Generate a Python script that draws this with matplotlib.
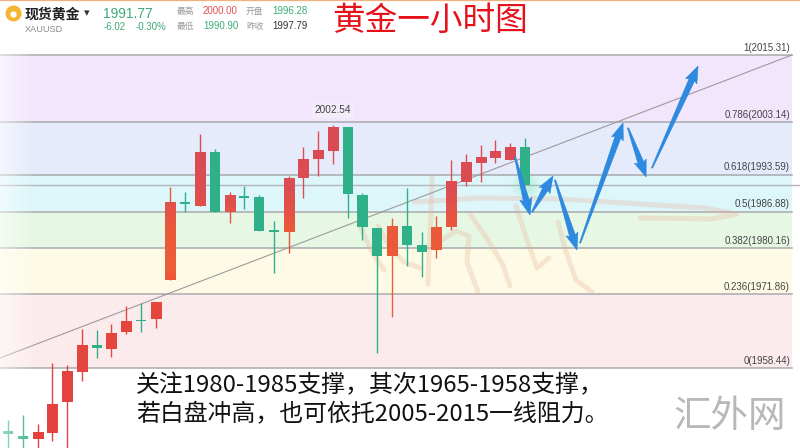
import numpy as np
import matplotlib
matplotlib.use("Agg")
import matplotlib.pyplot as plt
from matplotlib.patches import Polygon
from matplotlib.colors import LinearSegmentedColormap, Normalize
from matplotlib.lines import Line2D

plt.rcParams['font.family'] = ['Noto Sans CJK SC', 'DejaVu Sans']

# ---- hourly XAUUSD candles ----
opens = [1947.00, 1946.00, 1945.54, 1946.63, 1952.26, 1957.72, 1962.62, 1961.89, 1964.98, 1967.10,
         1967.34, 1974.43, 1988.50, 1987.88, 1997.69, 1986.79, 1989.55, 1989.51, 1983.40, 1983.15,
         1992.96, 1996.41, 1997.87, 2002.23, 1989.87, 1983.88, 1978.79, 1984.24, 1980.79, 1979.88,
         1984.06, 1992.24, 1995.69, 1996.60, 1996.23, 1998.59]
highs = [1948.99, 1949.90, 1948.27, 1959.35, 1958.99, 1965.53, 1965.35, 1966.44, 1969.71, 1970.25,
         1970.30, 1991.33, 1990.42, 2000.96, 1998.23, 1990.42, 1991.51, 1989.87, 1985.15, 1993.33,
         1998.59, 2001.50, 2002.54, 2002.30, 1990.24, 1983.88, 1985.70, 1991.15, 1983.15, 1986.06,
         1996.23, 1997.32, 1998.96, 1999.87, 1999.32, 2000.23]
lows = [1942.60, 1942.50, 1942.80, 1945.18, 1942.50, 1956.08, 1960.26, 1960.44, 1964.62, 1964.98,
        1965.71, 1974.43, 1986.79, 1987.88, 1986.79, 1984.79, 1987.33, 1983.33, 1975.70, 1979.34,
        1989.33, 1993.33, 1995.51, 1985.70, 1981.70, 1961.17, 1967.71, 1976.97, 1974.98, 1978.43,
        1983.52, 1991.51, 1992.24, 1995.69, 1996.23, 1991.69]
closes = [1946.45, 1945.60, 1946.81, 1951.72, 1957.72, 1962.62, 1962.08, 1964.62, 1966.80, 1967.00,
          1970.25, 1988.42, 1988.40, 1997.69, 1986.79, 1989.87, 1989.45, 1983.33, 1983.30, 1992.78,
          1996.41, 1997.87, 2002.23, 1990.06, 1984.06, 1978.79, 1984.06, 1980.79, 1979.52, 1983.88,
          1992.24, 1995.87, 1996.60, 1997.87, 1998.59, 1991.77]

# ---- Fibonacci retracement ----
fib_low = 1958.44
fib_high = 2015.31
fib_ratios = [1, 0.786, 0.618, 0.5, 0.382, 0.236, 0]
band_colors = ['#f1e6fb', '#e6ebfb', '#dcf6fa', '#e6f7e4', '#fdfbe5', '#fcebec']
last_price = 1991.77

# ---- trend line ----
trend_x = [-0.54, 53.08]
trend_y = [1960.26, 2015.31]

# ---- projected path (arrows) ----
arrow_from_x = [34.33, 35.48, 37.03, 38.73, 41.98, 43.60]
arrow_from_y = [1996.78, 1986.79, 1992.60, 1981.15, 2002.05, 1994.78]
arrow_to_x = [35.34, 36.90, 38.52, 41.64, 43.20, 46.72]
arrow_to_y = [1986.24, 1993.33, 1979.88, 2002.96, 1993.15, 2013.31]

# ---- quote header ----
quote_name = '现货黄金'
quote_code = 'XAUUSD'
quote_last = '1991.77'
quote_chg = '-6.02'
quote_pct = '-0.30%'
quote_high = '2000.00'
quote_low = '1990.90'
quote_open = '1996.28'
quote_prev = '1997.79'

title = '黄金一小时图'
note_lines = ['关注1980-1985支撑，其次1965-1958支撑，',
              '若白盘冲高，也可依托2005-2015一线阻力。']
brand = '汇外网'

W, H = 800, 448
fig = plt.figure(figsize=(W / 100, H / 100), dpi=100)
fig.patch.set_facecolor('white')
ax = fig.add_axes([0, 0, 1, 1])
ax.set_axis_off()
X_MIN, X_MAX = -0.542, 53.62
Y_MIN, Y_MAX = 1943.91, 2025.30


def fx(px):
    return px / W


def fy(py):
    return 1 - py / H


RIGHT = 0.99  # right edge of the retracement grid (axes fraction)

# bands and levels
levels = [fib_low + r * (fib_high - fib_low) for r in fib_ratios]
for i in range(len(levels) - 1):
    ax.axhspan(levels[i + 1], levels[i], xmin=0, xmax=RIGHT, color=band_colors[i], lw=0, zorder=0)
for r, lv in zip(fib_ratios, levels):
    ax.axhline(lv, xmin=0, xmax=RIGHT, color='#a9a9ad', lw=1.1, zorder=1)
    ax.annotate(f'{r:g}({lv:.2f})', xy=(RIGHT - 0.0025, lv), xycoords=('axes fraction', 'data'),
                xytext=(0, 1.6), textcoords='offset points', ha='right', va='bottom',
                fontsize=7, color='#454545', family='Liberation Sans', zorder=6)
ax.axhline(last_price, xmin=0, xmax=1, color='#b4b4b8', lw=1.0, zorder=1)

# signature watermark strokes (faint brush marks)
sig = '#eab29a'
strokes = [
    [(415, 202), (480, 198), (560, 199), (640, 204), (705, 208), (737, 214), (712, 219), (640, 218)],
    [(432, 176), (431, 215), (429, 250), (428, 284)],
    [(378, 226), (392, 250), (404, 262), (420, 268)],
    [(442, 240), (456, 231), (469, 236), (467, 262), (478, 292)],
    [(470, 214), (488, 240), (503, 265), (510, 286)],
    [(516, 206), (527, 240), (537, 268), (549, 258)],
    [(558, 222), (566, 252), (576, 280), (592, 292)],
    [(360, 226), (371, 250), (384, 270)],
]
for s in strokes:
    s = np.array(s, float)
    ax.plot(s[:, 0] / W, 1 - s[:, 1] / H, transform=ax.transAxes, color=sig, lw=3.6,
            alpha=0.3, solid_capstyle='round', solid_joinstyle='round', zorder=1.5)

# trend line
ax.plot(trend_x, trend_y, color='#9e9a9c', lw=0.8, zorder=2)

# candles
up_cmap = LinearSegmentedColormap.from_list(
    'up', [(0.0, '#e3423f'), (0.43, '#e5473f'), (0.52, '#ee5d36'), (0.63, '#ea583b'),
           (0.72, '#dc4e52'), (1.0, '#db4655')])
up_norm = Normalize(1940, 2010)
dn_color = '#2fb089'
bw = 0.68
for i, (o, h, l, c) in enumerate(zip(opens, highs, lows, closes)):
    up = c > o
    lo, hi = min(o, c), max(o, c)
    if hi - lo < 0.3:
        mid = (hi + lo) / 2
        lo, hi = mid - 0.15, mid + 0.15
    if up:
        wick_col = up_cmap(up_norm((h + l) / 2))
        ax.vlines(i, l, h, color=wick_col, lw=1.0, zorder=3)
        grad = np.linspace(lo, hi, 40).reshape(-1, 1)
        ax.imshow(grad, extent=[i - bw / 2, i + bw / 2, lo, hi], origin='lower', aspect='auto',
                  cmap=up_cmap, norm=up_norm, interpolation='bilinear', zorder=4)
    else:
        ax.vlines(i, l, h, color=dn_color, lw=1.0, zorder=3)
        ax.add_patch(plt.Rectangle((i - bw / 2, lo), bw, hi - lo, color=dn_color, lw=0, zorder=4))

# glow on the live candle
n_last = len(closes) - 1
for s, a in [(420, 0.05), (260, 0.07), (140, 0.09)]:
    ax.scatter([n_last], [closes[-1]], s=s, color='#5fe08a', alpha=a, lw=0, zorder=3.5)

# highest high label
imax = int(np.argmax(highs))
ax.annotate(f'{highs[imax]:.2f}', xy=(imax, highs[imax]), xytext=(0, 11), textcoords='offset points',
            ha='center', va='center', fontsize=7.2, color='#444', family='Liberation Sans', zorder=6,
            bbox=dict(boxstyle='square,pad=0.25', fc='#f4eefb', ec='none', alpha=0.8))

ax.set_xlim(X_MIN, X_MAX)
ax.set_ylim(Y_MIN, Y_MAX)

# arrows along the projected path
fig.canvas.draw()
to_disp = ax.transData
to_data = ax.transData.inverted()


def arrow_poly(p0, p1, w_tail=1.2, w_neck=6.0, head_w=12.5, head_len=15.0):
    d = p1 - p0
    L = np.hypot(*d)
    u = d / L
    n = np.array([-u[1], u[0]])
    neck = p1 - u * head_len
    barb = p1 - u * head_len * 1.12
    return np.array([p0 + n * w_tail / 2, neck + n * w_neck / 2, barb + n * head_w / 2, p1,
                     barb - n * head_w / 2, neck - n * w_neck / 2, p0 - n * w_tail / 2])


for x0, y0, x1, y1 in zip(arrow_from_x, arrow_from_y, arrow_to_x, arrow_to_y):
    p0 = to_disp.transform((x0, y0))
    p1 = to_disp.transform((x1, y1))
    poly = to_data.transform(arrow_poly(p0, p1))
    ax.add_patch(Polygon(poly, closed=True, fc='#2d8ae0', ec='#2a84d8', lw=0.4, zorder=7))

# soft fade at the left edge
fade = np.ones((2, 64, 4))
fade[..., 3] = np.linspace(0.55, 0.0, 64)[None, :]
ax.imshow(fade, extent=[X_MIN, X_MIN + 35 / 14.77, Y_MIN, fib_high], aspect='auto',
          interpolation='bilinear', zorder=8)
ax.set_xlim(X_MIN, X_MAX)
ax.set_ylim(Y_MIN, Y_MAX)

# ---- header ----
fig.add_artist(Line2D([0, 1], [1, 1], transform=fig.transFigure, color='#f3b07c', lw=1.6))
fig.add_artist(Line2D([fx(12.5)], [fy(13.5)], transform=fig.transFigure, marker='o', ms=10.5,
                      mfc='#f4b62f', mec='#f4b62f'))
fig.add_artist(Line2D([fx(12.5)], [fy(14)], transform=fig.transFigure, marker='o', ms=3.5,
                      mfc='white', mec='white'))
fig.text(fx(25), fy(14), quote_name, fontsize=10, fontweight='bold', color='#222', va='center')
fig.text(fx(84), fy(13.5), '▾', fontsize=8, color='#333', va='center', family='DejaVu Sans')
fig.text(fx(25), fy(29), quote_code, fontsize=6.6, color='#8a8a8a', va='center', family='Liberation Sans')
fig.text(fx(103), fy(13.5), quote_last, fontsize=10, color='#3daa78', va='center', family='Liberation Sans')
fig.text(fx(104), fy(26.5), quote_chg, fontsize=7, color='#3daa78', va='center', family='Liberation Sans')
fig.text(fx(136), fy(26.5), quote_pct, fontsize=7, color='#3daa78', va='center', family='Liberation Sans')
grey = '#9a9a9a'
fig.text(fx(177), fy(11.5), '最高', fontsize=6.3, color=grey, va='center')
fig.text(fx(203), fy(11.5), quote_high, fontsize=7, color='#e05252', va='center', family='Liberation Sans')
fig.text(fx(246), fy(11.5), '开盘', fontsize=6.3, color=grey, va='center')
fig.text(fx(272), fy(11.5), quote_open, fontsize=7, color='#3daa78', va='center', family='Liberation Sans')
fig.text(fx(177), fy(26), '最低', fontsize=6.3, color=grey, va='center')
fig.text(fx(203), fy(26), quote_low, fontsize=7, color='#3daa78', va='center', family='Liberation Sans')
fig.text(fx(246), fy(26), '昨收', fontsize=6.3, color=grey, va='center')
fig.text(fx(272), fy(26), quote_prev, fontsize=7, color='#333', va='center', family='Liberation Sans')

fig.text(fx(430), fy(21), title, fontsize=23.5, color='#e5121b', ha='center', va='center')

# ---- commentary and brand ----
fig.text(fx(136), fy(386), note_lines[0], fontsize=17.2, color='#111', va='center')
fig.text(fx(136), fy(415), note_lines[1], fontsize=17.2, color='#111', va='center')
fig.text(fx(673), fy(416), brand, fontsize=27, color='#b8b8b8', fontweight='light', va='center')

fig.savefig('out.png', dpi=100)
